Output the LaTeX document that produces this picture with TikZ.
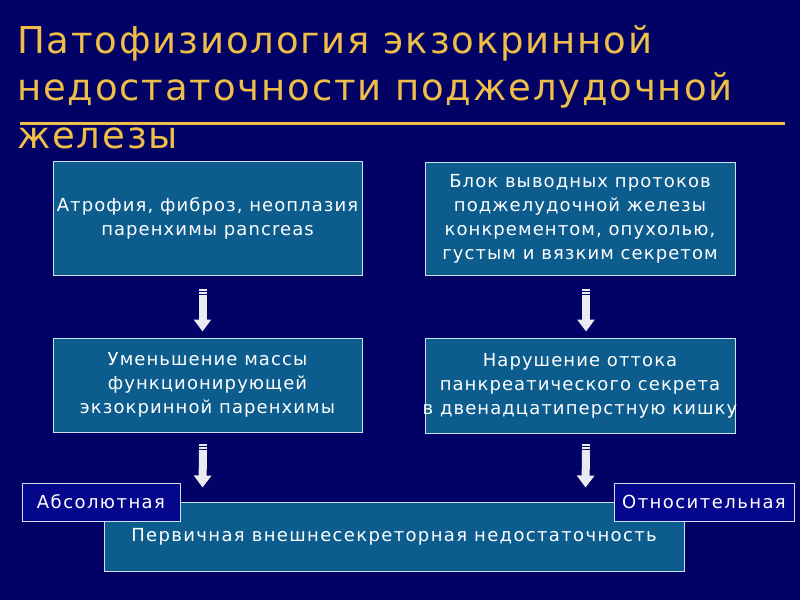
\documentclass[tikz,border=0pt]{standalone}
\usepackage{fontspec}
\setmainfont{DejaVu Sans}
\newfontfamily\titlefont{DejaVu Sans}[LetterSpace=5]
\newfontfamily\boxfont{DejaVu Sans}[LetterSpace=6]
\newfontfamily\labfont{DejaVu Sans}[LetterSpace=8]
\newfontfamily\botfont{DejaVu Sans}[LetterSpace=7.5]
\usetikzlibrary{arrows.meta,calc}
\definecolor{bg}{RGB}{2,2,102}
\definecolor{gold}{RGB}{238,190,72}
\definecolor{boxblue}{RGB}{12,92,142}
\definecolor{labblue}{RGB}{4,6,140}
\definecolor{edgec}{RGB}{205,225,240}
\definecolor{arrowc}{RGB}{234,234,242}
\newcommand\stripedarrow[2]{%
  \fill[arrowc] ($(#1)+(-4,0)$) rectangle ($(#1)+(4,2)$);
  \fill[arrowc] ($(#1)+(-4,3.5)$) rectangle ($(#1)+(4,5)$);
  \draw[arrowc, line width=8pt, -{Triangle[width=17pt,length=12pt]}] ($(#1)+(0,6.5)$) -- (#2);
}
\begin{document}
\begin{tikzpicture}[x=1pt,y=-1pt,
  titletext/.style={anchor=base west, inner sep=0pt, text=gold, font=\titlefont\fontsize{37}{47}\selectfont},
  box/.style={draw=edgec, line width=1pt, fill=boxblue, text=white, align=center, inner sep=0pt,
    font=\boxfont\fontsize{18}{24}\selectfont},
  labbox/.style={draw=edgec, line width=1pt, fill=labblue, text=white, align=center, inner sep=0pt,
    font=\labfont\fontsize{18}{22}\selectfont}]
\useasboundingbox (0,0) rectangle (800,600);
\fill[bg] (0,0) rectangle (800,600);
% title
\node[titletext] (t1) at (17,53) {Патофизиология экзокринной};
\node[titletext] (t2) at (17,100) {недостаточности поджелудочной};
\node[titletext] (t3) at (17,148) {железы};
\coordinate (rl) at (20,123);
\coordinate (rr) at (785,123);
\draw[gold, line width=3pt] (rl) -- (rr);
% boxes
\node[box, minimum width=309pt, minimum height=114pt] (A) at (207.5,218)
  {Атрофия, фиброз, неоплазия\\паренхимы pancreas};
\node[box, minimum width=310pt, minimum height=113pt] (B) at (580,218.5)
  {Блок выводных протоков\\поджелудочной железы\\конкрементом, опухолью,\\густым и вязким секретом};
\node[box, minimum width=309pt, minimum height=94pt] (C) at (207.5,385)
  {Уменьшение массы\\функционирующей\\экзокринной паренхимы};
\node[box, minimum width=310pt, minimum height=95pt] (D) at (580,385.5)
  {Нарушение оттока\\панкреатического секрета\\\makebox[0pt]{в двенадцатиперстную кишку}};
\node[box, minimum width=580pt, minimum height=69pt, font=\botfont\fontsize{18}{22}\selectfont] (E) at (394,536.5)
  {Первичная внешнесекреторная недостаточность};
\node[labbox, minimum width=158pt, minimum height=38pt] (abs) at (101,502) {Абсолютная};
\node[labbox, minimum width=180pt, minimum height=38pt] (otn) at (704,502) {Относительная};
% arrows
\coordinate (a1s) at ($(A.south)+(-5,13)$);
\coordinate (a1e) at ($(C.north)+(-5,-6)$);
\coordinate (a2s) at ($(B.south)+(6,13)$);
\coordinate (a2e) at ($(D.north)+(6,-6)$);
\coordinate (a3s) at ($(C.south)+(-4.5,11)$);
\coordinate (a3e) at ($(E.north west)+(99,-14)$);
\coordinate (a4s) at ($(D.south)+(6,10)$);
\coordinate (a4e) at ($(E.north west)+(482,-14)$);
\stripedarrow{a1s}{a1e}
\stripedarrow{a2s}{a2e}
\stripedarrow{a3s}{a3e}
\stripedarrow{a4s}{a4e}
\end{tikzpicture}
\end{document}
